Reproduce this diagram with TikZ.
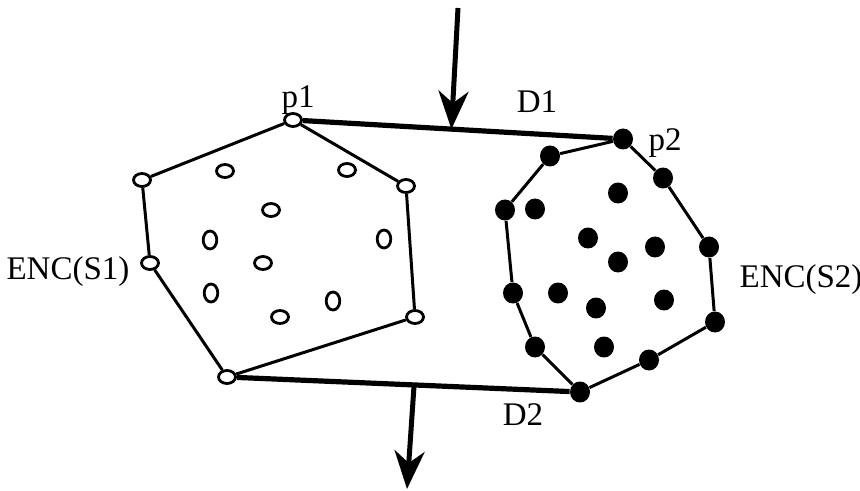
\documentclass[tikz,border=0pt]{standalone}
\usepackage{fontspec}
\setmainfont{Liberation Serif}
\usetikzlibrary{shapes.geometric,arrows.meta,calc,positioning}

\tikzset{
  openpt/.style={ellipse, draw=black, fill=white, line width=1.4pt, inner sep=0pt, minimum width=8.5pt, minimum height=6.5pt},
  openv/.style={openpt, minimum width=6.8pt, minimum height=9pt},
  fullpt/.style={ellipse, fill=black, inner sep=0pt, minimum width=10pt, minimum height=10.5pt},
  hull/.style={line width=1.5pt},
  tangent/.style={line width=2.6pt},
  sweep/.style={line width=2.5pt, -{Stealth[length=19pt, width=15pt, inset=6pt]}},
  lab/.style={font=\fontsize{16.5}{18}\selectfont, inner sep=0pt}
}

\begin{document}
\begin{tikzpicture}[x=0.5pt,y=-0.5pt]
            \useasboundingbox (0,0) rectangle (860,491);
            % hull of S1
            \node[openpt] (p1) at (293,120) {};
            \node[openpt] (a2) at (142,180) {};
            \node[openpt] (a3) at (150,263) {};
            \node[openpt] (a4) at (227,377) {};
            \node[openpt] (a5) at (415,317) {};
            \node[openpt] (a6) at (406,186) {};
            % inside S1
            \node[openpt] (i1) at (225,171) {};
            \node[openpt] (i2) at (347,170) {};
            \node[openpt] (i3) at (271,210) {};
            \node[openv] (i4) at (210,240) {};
            \node[openv] (i5) at (384,239) {};
            \node[openpt] (i6) at (263,263) {};
            \node[openv] (i7) at (211,293) {};
            \node[openv] (i8) at (333,301) {};
            \node[openpt] (i9) at (280,317) {};
            % hull of S2
            \node[fullpt] (p2) at (623,139) {};
            \node[fullpt] (b2) at (550,156) {};
            \node[fullpt] (b3) at (505,210) {};
            \node[fullpt] (b4) at (513,293) {};
            \node[fullpt] (b5) at (535,347) {};
            \node[fullpt] (b6) at (580,392) {};
            \node[fullpt] (b7) at (649,360) {};
            \node[fullpt] (b8) at (715,322) {};
            \node[fullpt] (b9) at (709,247) {};
            \node[fullpt] (b10) at (663,178) {};
            % inside S2
            \node[fullpt] (j1) at (618,193) {};
            \node[fullpt] (j2) at (535,209) {};
            \node[fullpt] (j3) at (588,238) {};
            \node[fullpt] (j4) at (655,247) {};
            \node[fullpt] (j5) at (618,262) {};
            \node[fullpt] (j6) at (558,293) {};
            \node[fullpt] (j7) at (596,308) {};
            \node[fullpt] (j8) at (664,300) {};
            \node[fullpt] (j9) at (604,347) {};
            % labels
            \node[lab] (p1lab) at (298,100) {p1};
            \node[lab] (p2lab) at (665,143) {p2};
            \node[lab] (d1lab) at (537,102) {D1};
            \node[lab] (d2lab) at (523,415) {D2};
            \node[lab] (enc1) at (68,272) {ENC(S1)};
            \node[lab] (enc2) at (801,280) {ENC(S2)};
            % edges
            \draw[hull] (p1) -- (a2) -- (a3) -- (a4) -- (a5) -- (a6) -- (p1);
            \draw[hull] (p2) -- (b2) -- (b3) -- (b4) -- (b5) -- (b6) -- (b7) -- (b8) -- (b9) -- (b10) -- (p2);
            \draw[tangent] (p1) -- (p2);
            \draw[tangent] (a4) -- (b6);
            % arrows
            \coordinate (top) at (458,8);
            \coordinate (hit1) at ($(p1)!0.48!(p2)$);
            \coordinate (hit2) at ($(a4)!0.53!(b6)$);
            \coordinate (bot) at (407,489);
            \draw[sweep] (top) -- (hit1);
            \draw[sweep] (hit2) -- (bot);
        \end{tikzpicture}
\end{document}
